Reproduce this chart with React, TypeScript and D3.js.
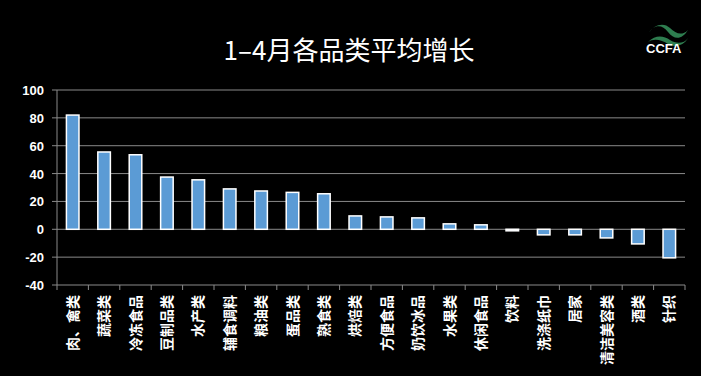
import React from "react";
import * as d3 from "d3";

const categories = ["肉、禽类","蔬菜类","冷冻食品","豆制品类","水产类","辅食调料","粮油类","蛋品类","熟食类","烘焙类","方便食品","奶饮冰品","水果类","休闲食品","饮料","洗涤纸巾","居家","清洁美容类","酒类","针织"];
const values = [82, 55.5, 53.5, 37.5, 35.5, 29, 27.5, 26.5, 25.5, 9.6, 8.9, 8.2, 3.9, 3.2, -1.1, -4, -4, -6.2, -10.5, -20.5];
const yTicks = [100, 80, 60, 40, 20, 0, -20, -40];
const title = "1–4月各品类平均增长";

export default function App() {
  const W = 701, H = 376;
  const left = 57, right = 685, top = 90, bottom = 285;
  const x = d3.scaleBand().domain(categories).range([left, right]).paddingInner(0).paddingOuter(0);
  const y = d3.scaleLinear().domain([-40, 100]).range([bottom, top]);
  const bw = x.bandwidth() * 0.4;
  const font = "'Noto Sans CJK SC', 'Liberation Sans', sans-serif";
  return (
    <svg width={W} height={H} style={{ position: "absolute", left: 0, top: 0, background: "#000" }}>
      <rect x={0} y={0} width={W} height={H} fill="#000" />
      <text x={349} y={60} textAnchor="middle" fill="#fff" fontSize={26} fontFamily={font}>{title}</text>
      {/* logo */}
      <g transform="translate(648,22)">
        <path d="M0,12 C6,2 14,2 20,10 C26,18 34,18 40,8 C34,14 28,12 22,6 C16,0 6,2 0,12 Z" fill="#2e7d4f" />
        <path d="M0,20 C8,12 16,14 22,18 C28,22 36,22 40,16 C36,24 26,26 20,22 C14,18 6,16 0,20 Z" fill="#2e7d4f" />
      </g>
      <text x={646} y={53} fill="#fff" fontSize={13} fontWeight="bold" fontFamily="'Liberation Sans', sans-serif">CCFA</text>
      {yTicks.map(t => (
        <g key={t}>
          <line x1={left} x2={right} y1={y(t)} y2={y(t)} stroke="#8a8a8a" strokeWidth={1} />
          <line x1={left - 5} x2={left} y1={y(t)} y2={y(t)} stroke="#8a8a8a" strokeWidth={1} />
          <text x={44} y={y(t) + 5} textAnchor="end" fill="#fff" fontSize={13} fontWeight="bold" fontFamily="'Liberation Sans', sans-serif">{t}</text>
        </g>
      ))}
      <line x1={left} x2={left} y1={top} y2={bottom + 5} stroke="#8a8a8a" strokeWidth={1} />
      {categories.map((c, i) => (
        <line key={"t" + i} x1={(x(c) as number) + x.bandwidth()} x2={(x(c) as number) + x.bandwidth()} y1={bottom} y2={bottom + 5} stroke="#8a8a8a" strokeWidth={1} />
      ))}
      {categories.map((c, i) => {
        const v = values[i];
        const cx = (x(c) as number) + x.bandwidth() / 2;
        const y0 = y(Math.max(0, v)), y1 = y(Math.min(0, v));
        return <rect key={c} x={cx - bw / 2} y={y0} width={bw} height={Math.max(1, y1 - y0)} fill="#5b9bd5" stroke="#fff" strokeWidth={1.5} />;
      })}
      {categories.map((c) => {
        const cx = (x(c) as number) + x.bandwidth() / 2;
        return (
          <text key={"l" + c} transform={`translate(${cx + 5},295) rotate(-90)`} textAnchor="end" fill="#fff" fontSize={14} fontWeight="bold" fontFamily={font}>{c}</text>
        );
      })}
    </svg>
  );
}
